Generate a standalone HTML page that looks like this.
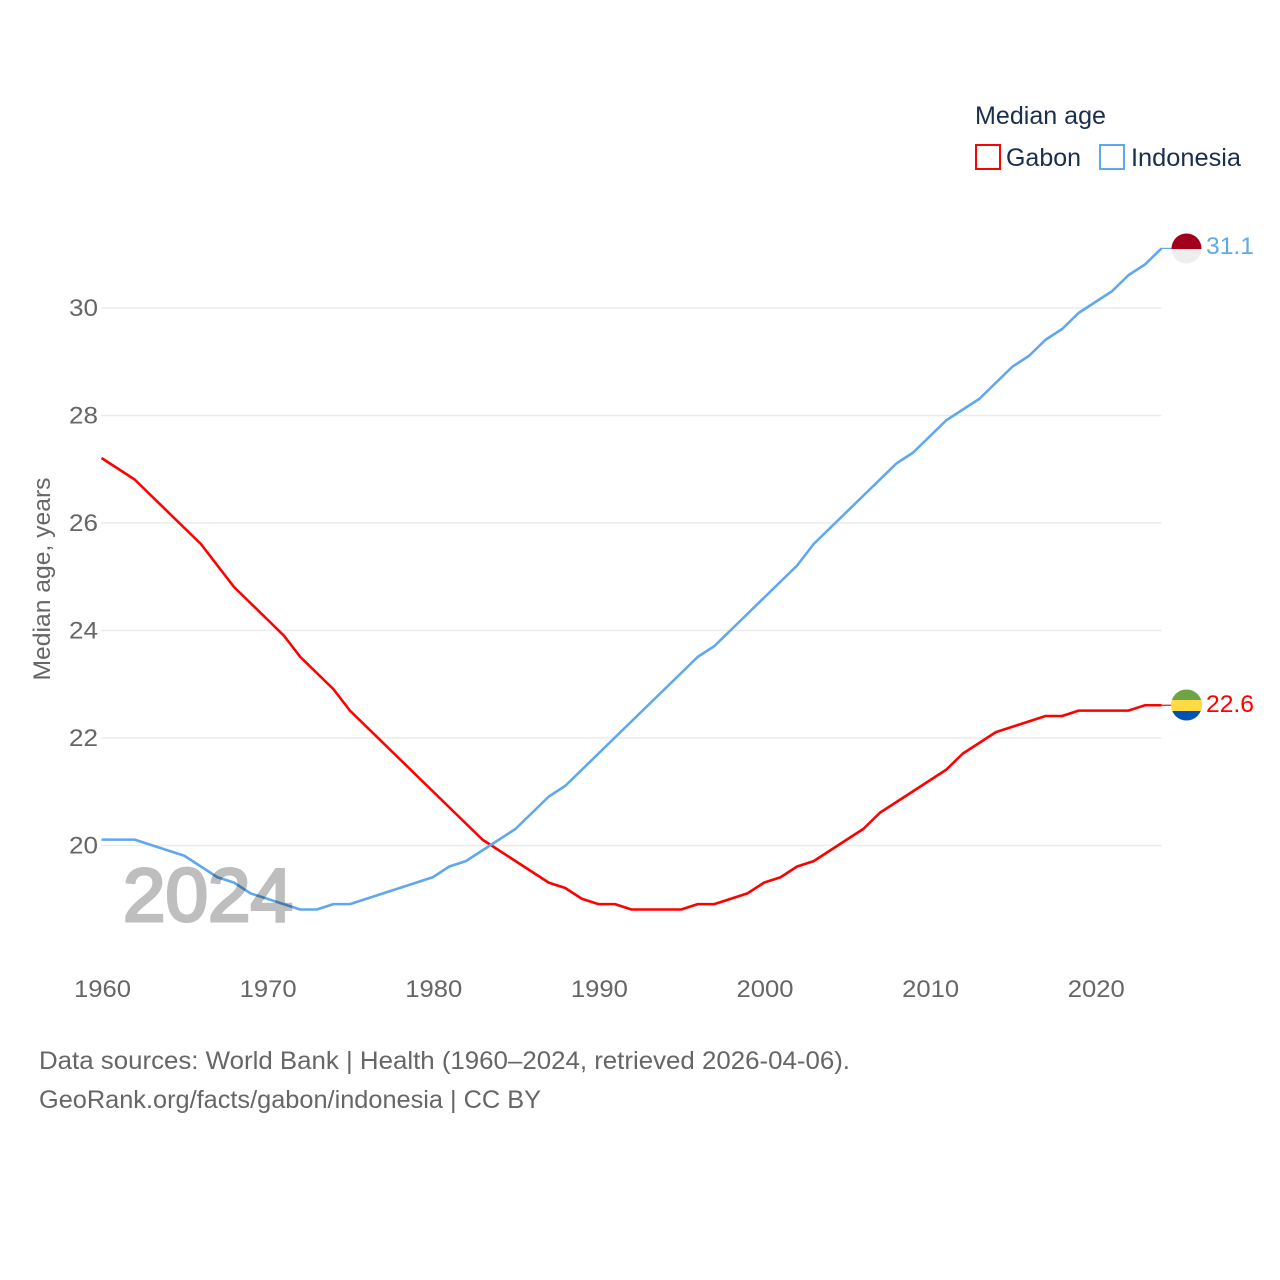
<!DOCTYPE html>
<html lang="en">
<head>
<meta charset="utf-8">
<title>Median age: Gabon and Indonesia</title>
<style>
html,body{margin:0;padding:0;background:#fff}
svg{display:block}
text{font-family:"Liberation Sans",sans-serif}
</style>
</head>
<body>
<svg id="chart" xmlns="http://www.w3.org/2000/svg" width="1280" height="1280" viewBox="0 0 1280 1280">
  <rect width="1280" height="1280" fill="#fff"/>
  <g id="grid"></g>
  <g id="y-ticks"></g>
  <g id="x-ticks"></g>
  <text transform="translate(50,579) rotate(-90)" text-anchor="middle" font-size="24" fill="#666" textLength="203" lengthAdjust="spacingAndGlyphs">Median age, years</text>
  <g id="series"></g>
  <text x="123" y="921" font-size="75" fill="#000" stroke="#000" stroke-width="3" opacity="0.25" textLength="170" lengthAdjust="spacingAndGlyphs">2024</text>

  <g>
    <text x="975" y="124" font-size="25" fill="#1a2e4d" textLength="131" lengthAdjust="spacingAndGlyphs">Median age</text>
    <g>
      <rect x="976" y="145" width="24" height="24" fill="none" stroke="#ff0000" stroke-width="2"/>
      <text x="1006" y="166" font-size="25" fill="#1a2e4d" textLength="75" lengthAdjust="spacingAndGlyphs">Gabon</text>
    </g>
    <g>
      <rect x="1100" y="145" width="24" height="24" fill="none" stroke="#5fa8ee" stroke-width="2"/>
      <text x="1131" y="166" font-size="25" fill="#1a2e4d" textLength="110" lengthAdjust="spacingAndGlyphs">Indonesia</text>
    </g>
  </g>

  <defs>
    <clipPath id="flag-clip-id"><circle cx="1186.5" cy="248.5" r="15"/></clipPath>
    <clipPath id="flag-clip-ga"><circle cx="1186.5" cy="705" r="15.5"/></clipPath>
  </defs>
  <g clip-path="url(#flag-clip-id)">
    <rect x="1171" y="233" width="31" height="16" fill="#a2001d"/>
    <rect x="1171" y="249" width="31" height="16" fill="#eeeeee"/>
  </g>
  <g clip-path="url(#flag-clip-ga)">
    <rect x="1171" y="689" width="31" height="11" fill="#6da544"/>
    <rect x="1171" y="700" width="31" height="11" fill="#ffda44"/>
    <rect x="1171" y="711" width="31" height="11" fill="#0052b4"/>
  </g>
  <text x="1206" y="254" font-size="24" fill="#5fa8ee" textLength="48" lengthAdjust="spacingAndGlyphs">31.1</text>
  <text x="1206" y="712" font-size="24" fill="#ff0000" textLength="48" lengthAdjust="spacingAndGlyphs">22.6</text>

  <text x="39" y="1069" font-size="25" fill="#666" textLength="811" lengthAdjust="spacingAndGlyphs">Data sources: World Bank | Health (1960–2024, retrieved 2026-04-06).</text>
  <text x="39" y="1108" font-size="25" fill="#666" textLength="502" lengthAdjust="spacingAndGlyphs">GeoRank.org/facts/gabon/indonesia | CC BY</text>
</svg>
<script>
const startYear = 1960;
const gabonValues = [27.2,27.0,26.8,26.5,26.2,25.9,25.6,25.2,24.8,24.5,24.2,23.9,23.5,23.2,22.9,22.5,22.2,21.9,21.6,21.3,21.0,20.7,20.4,20.1,19.9,19.7,19.5,19.3,19.2,19.0,18.9,18.9,18.8,18.8,18.8,18.8,18.9,18.9,19.0,19.1,19.3,19.4,19.6,19.7,19.9,20.1,20.3,20.6,20.8,21.0,21.2,21.4,21.7,21.9,22.1,22.2,22.3,22.4,22.4,22.5,22.5,22.5,22.5,22.6,22.6];
const indonesiaValues = [20.1,20.1,20.1,20.0,19.9,19.8,19.6,19.4,19.3,19.1,19.0,18.9,18.8,18.8,18.9,18.9,19.0,19.1,19.2,19.3,19.4,19.6,19.7,19.9,20.1,20.3,20.6,20.9,21.1,21.4,21.7,22.0,22.3,22.6,22.9,23.2,23.5,23.7,24.0,24.3,24.6,24.9,25.2,25.6,25.9,26.2,26.5,26.8,27.1,27.3,27.6,27.9,28.1,28.3,28.6,28.9,29.1,29.4,29.6,29.9,30.1,30.3,30.6,30.8,31.1];
const yTickValues = [20,22,24,26,28,30];
const xTickValues = [1960,1970,1980,1990,2000,2010,2020];

const NS = 'http://www.w3.org/2000/svg';
function xScale(year){ return 101.5 + (year - 1960) * 16.5625; }
function yScale(v){ return 845.5 - (v - 20) * 53.75; }
function make(tag, attrs){
  const el = document.createElementNS(NS, tag);
  for (const k in attrs) el.setAttribute(k, attrs[k]);
  return el;
}

const gridG = document.getElementById('grid');
const yG = document.getElementById('y-ticks');
yTickValues.forEach(function(v){
  const line = make('line', {x1:101, x2:1161.5, y1:yScale(v), y2:yScale(v), stroke:'#ebebeb', 'stroke-width':1.5});
  
  
  gridG.appendChild(line);
  const t = make('text', {x:98, y:yScale(v) + 8, 'text-anchor':'end', 'font-size':24, fill:'#666', textLength:29, lengthAdjust:'spacingAndGlyphs'});
  
  
  t.textContent = v;
  yG.appendChild(t);
});

const xG = document.getElementById('x-ticks');
xTickValues.forEach(function(y){
  const t = make('text', {x:xScale(y) + 1, y:997, 'text-anchor':'middle', 'font-size':24, fill:'#666', textLength:57, lengthAdjust:'spacingAndGlyphs'});
  
  
  t.textContent = y;
  xG.appendChild(t);
});

function drawSeries(values, color, name){
  const g = document.getElementById('series');
  const pts = values.map(function(v, i){ return xScale(startYear + i).toFixed(2) + ',' + (yScale(v) - 0.5).toFixed(2); }).join(' ');
  const line = make('polyline', {points:pts, fill:'none', stroke:color, 'stroke-width':2.6, 'stroke-linejoin':'round'});
  
  
  g.appendChild(line);
  const lastIndex = values.length - 1;
  const lastY = yScale(values[lastIndex]) - 0.5;
  const lead = make('line', {x1:xScale(startYear + lastIndex), x2:1172, y1:lastY, y2:lastY, stroke:color, 'stroke-width':1.2});
  
  
  g.appendChild(lead);
}
drawSeries(gabonValues, '#ff0000', 'gabon');
drawSeries(indonesiaValues, '#5fa8ee', 'indonesia');
</script>
</body>
</html>
